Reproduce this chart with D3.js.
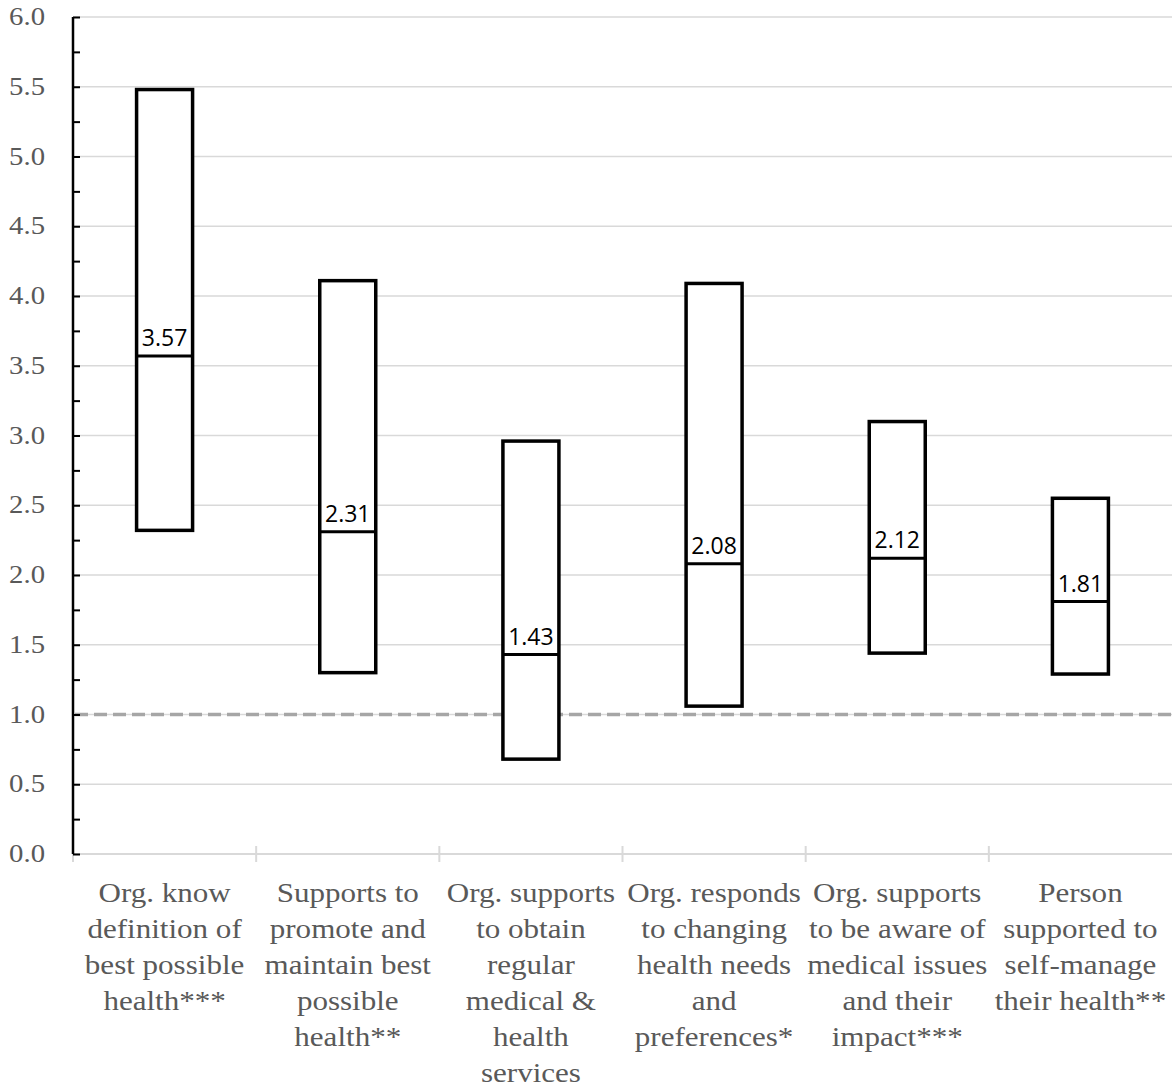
<!DOCTYPE html>
<html>
<head>
<meta charset="utf-8">
<script src="https://cdn.jsdelivr.net/npm/d3@7"></script>
<style>
  body { margin: 0; background: #fff; }
  .serif { font-family: 'Liberation Serif', 'Times New Roman', 'DejaVu Serif', serif; }
</style>
</head>
<body>
<div class="chart"></div>
<script>
const categories = [
    ['Org. know', 'definition of', 'best possible', 'health***'],
    ['Supports to', 'promote and', 'maintain best', 'possible', 'health**'],
    ['Org. supports', 'to obtain', 'regular', 'medical &', 'health', 'services'],
    ['Org. responds', 'to changing', 'health needs', 'and', 'preferences*'],
    ['Org. supports', 'to be aware of', 'medical issues', 'and their', 'impact***'],
    ['Person', 'supported to', 'self-manage', 'their health**']
];
const upper = [5.48, 4.11, 2.96, 4.09, 3.10, 2.55];
const lower = [2.32, 1.30, 0.68, 1.06, 1.44, 1.29];
const middle = [3.57, 2.31, 1.43, 2.08, 2.12, 1.81];
const yTicks = [0, 0.5, 1, 1.5, 2, 2.5, 3, 3.5, 4, 4.5, 5, 5.5, 6];
const minorTicks = d3.range(0, 6.01, 0.25);
const refLine = 1.0;

const width = 1172, height = 1087;
const margin = {top: 17, right: 0, bottom: 233, left: 73};
const stretch = 1.15; // the source image is a little wider than tall

const svg = d3.select('.chart')
    .append('svg')
    .attr('width', width)
    .attr('height', height);

const xScale = d3.scaleBand()
    .domain(d3.range(categories.length))
    .range([margin.left, width - margin.right]);

const yScale = d3.scaleLinear()
    .domain([0, 6])
    .range([height - margin.bottom, margin.top]);

// gridlines
svg.append('g')
    .selectAll('line')
    .data(yTicks.filter(d => d > 0))
    .enter()
    .append('line')
        .attr('x1', margin.left)
        .attr('x2', width)
        .attr('y1', d => yScale(d))
        .attr('y2', d => yScale(d))
        .attr('stroke', '#d9d9d9')
        .attr('stroke-width', 1.5);

// x axis (grey) with separators
const x0 = yScale(0);
svg.append('line')
    .attr('x1', margin.left).attr('x2', width)
    .attr('y1', x0).attr('y2', x0)
    .attr('stroke', '#d9d9d9').attr('stroke-width', 2);
svg.append('g')
    .selectAll('line')
    .data(d3.range(categories.length))
    .enter()
    .append('line')
        .attr('x1', d => xScale(d))
        .attr('x2', d => xScale(d))
        .attr('y1', x0 - 8)
        .attr('y2', x0 + 8)
        .attr('stroke', '#d9d9d9')
        .attr('stroke-width', 2);

// dashed reference line
svg.append('line')
    .attr('x1', margin.left + 2).attr('x2', width)
    .attr('y1', yScale(refLine)).attr('y2', yScale(refLine))
    .attr('stroke', '#a6a6a6')
    .attr('stroke-width', 3.5)
    .attr('stroke-dasharray', '13,6');

// y axis
const yAxis = svg.append('g')
    .attr('transform', 'translate(' + margin.left + ',0)')
    .call(d3.axisRight(yScale).tickValues(minorTicks).tickSize(7).tickFormat(''));
yAxis.select('.domain').attr('stroke', '#000').attr('stroke-width', 2.5)
    .attr('d', 'M0,' + yScale(6) + 'V' + yScale(0));
yAxis.selectAll('.tick line').attr('stroke', '#000').attr('stroke-width', 2);

svg.append('g')
    .selectAll('text')
    .data(yTicks)
    .enter()
    .append('text')
        .attr('class', 'serif')
        .attr('transform', d => 'translate(45,' + (yScale(d) + 8) + ') scale(' + stretch + ',1)')
        .attr('text-anchor', 'end')
        .attr('font-size', 25)
        .attr('fill', '#595959')
        .text(d => d.toFixed(1));

// boxes
const boxW = 56;
const boxes = svg.append('g')
    .selectAll('g')
    .data(d3.range(categories.length))
    .enter()
    .append('g');

boxes.append('rect')
    .attr('x', i => xScale(i) + xScale.bandwidth() / 2 - boxW / 2)
    .attr('y', i => yScale(upper[i]))
    .attr('width', boxW)
    .attr('height', i => yScale(lower[i]) - yScale(upper[i]))
    .attr('fill', '#fff')
    .attr('stroke', '#000')
    .attr('stroke-width', 3.5);

boxes.append('line')
    .attr('x1', i => xScale(i) + xScale.bandwidth() / 2 - boxW / 2)
    .attr('x2', i => xScale(i) + xScale.bandwidth() / 2 + boxW / 2)
    .attr('y1', i => yScale(middle[i]))
    .attr('y2', i => yScale(middle[i]))
    .attr('stroke', '#000')
    .attr('stroke-width', 3);

boxes.append('text')
    .attr('x', i => xScale(i) + xScale.bandwidth() / 2)
    .attr('y', i => yScale(middle[i]) - 10)
    .attr('text-anchor', 'middle')
    .attr('font-family', "'Open Sans', sans-serif")
    .attr('font-size', 23)
    .attr('fill', '#000')
    .text(i => middle[i].toFixed(2));

// category labels
const labels = svg.append('g')
    .selectAll('text')
    .data(d3.range(categories.length))
    .enter()
    .append('text')
        .attr('class', 'serif')
        .attr('transform', i => 'translate(' + (xScale(i) + xScale.bandwidth() / 2) + ',902) scale(' + stretch + ',1)')
        .attr('text-anchor', 'middle')
        .attr('font-size', 27)
        .attr('fill', '#595959');

labels.selectAll('tspan')
    .data(i => categories[i])
    .enter()
    .append('tspan')
        .attr('x', 0)
        .attr('dy', (d, j) => j === 0 ? 0 : 36)
        .text(d => d);
</script>
</body>
</html>
